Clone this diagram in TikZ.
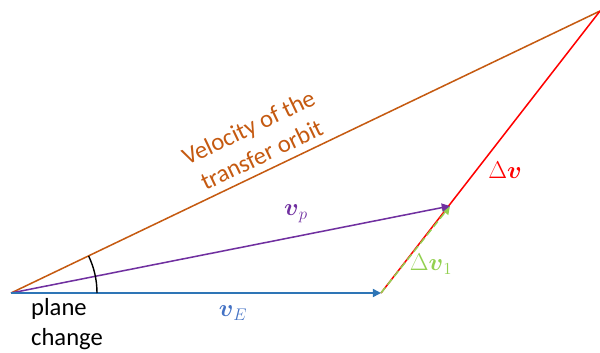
\documentclass[tikz,border=0pt]{standalone}
\usepackage{amsmath,amssymb}
\usepackage{fontspec}
\setmainfont{Carlito}
\usepackage{tikz}
\usetikzlibrary{calc,positioning,arrows.meta}

\definecolor{orbitbrown}{HTML}{C55A11}
\definecolor{vpurple}{HTML}{7030A0}
\definecolor{vblue}{HTML}{2E75B6}
\definecolor{lblblue}{HTML}{4472C4}
\definecolor{dvgreen}{HTML}{92D050}

\tikzset{
  vec/.style={line width=1.3pt},
  lbl/.style={font=\fontsize{21}{26}\selectfont, inner sep=1pt}
}

\begin{document}
\begin{tikzpicture}[x=0.03cm,y=-0.03cm]
		\useasboundingbox (0,0) rectangle (600,352);
		
		\coordinate (O) at (11,293);
		\coordinate (E) at (381,293);
		\coordinate (P) at (450,206);
		\coordinate (T) at (600,11);
		
		\draw[vec, orbitbrown] (O) -- (T);
		\draw[vec, red] (E) -- (T);
		\draw[vec, dvgreen, dashed, dash pattern=on 6pt off 3pt, -{Triangle[length=7pt,width=7pt]}] (E) -- (P);
		\draw[vec, vpurple, -{Triangle[length=7pt,width=7pt]}] (O) -- (P);
		\draw[vec, vblue, -{Triangle[length=7pt,width=7pt]}] (O) -- (E);
		
		\draw[line width=1.2pt] ($(O)+(86,0)$) arc[start angle=0, end angle=-25.5, radius=86];
		
		\node[lbl, orbitbrown, rotate=25.5, align=center] (orbit) at (255,141) {Velocity of the\\transfer orbit};
		\node[lbl, vpurple] (vp) at (296,214) {$\boldsymbol{v}_p$};
		\node[lbl, lblblue] (vE) at (233,313) {$\boldsymbol{v}_E$};
		\node[lbl, dvgreen] (dv1) at (431,264) {$\Delta\boldsymbol{v}_1$};
		\node[lbl, red] (dv) at (505,170) {$\Delta\boldsymbol{v}$};
		\node[lbl, align=left, font=\fontsize{21}{25}\selectfont] (plane) at (67,324) {plane\\change};
	\end{tikzpicture}
\end{document}
